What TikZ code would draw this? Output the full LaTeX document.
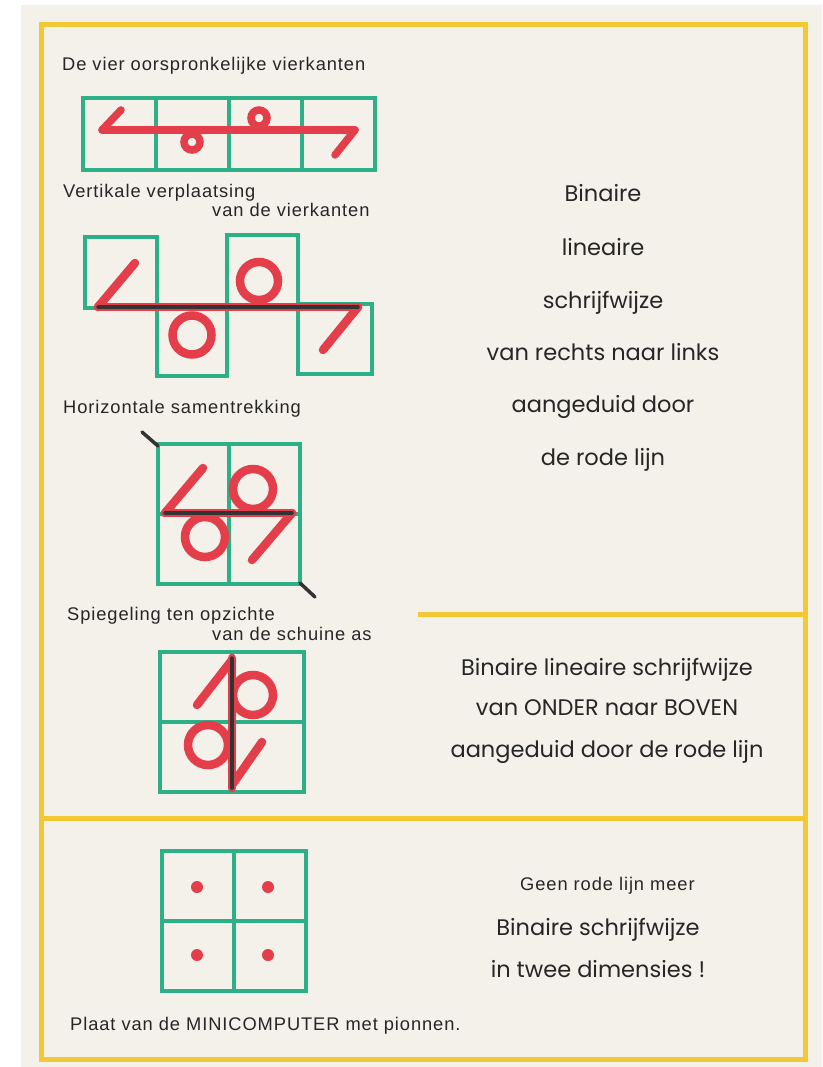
\documentclass[tikz,border=0pt]{standalone}
\usepackage{fontspec}
\setmainfont{Liberation Sans}[LetterSpace=5]
\newfontfamily\geofont{Poppins}
\definecolor{vakgroen}{RGB}{45,175,135}
\definecolor{lijnrood}{RGB}{228,62,75}
\definecolor{kadergeel}{RGB}{242,200,52}
\definecolor{papier}{RGB}{243,241,233}
\tikzset{
	vak/.style={draw=vakgroen,line width=4pt},
	rood/.style={draw=lijnrood,line width=8.5pt,line cap=round},
	dunrood/.style={draw=lijnrood,line width=7.5pt,line cap=round},
	aslijn/.style={draw=black!80,line width=3.5pt,line cap=round},
	bijschrift/.style={anchor=base west,inner sep=0pt,font=\fontsize{18.3}{22}\selectfont,text=black!85},
	groot/.style={anchor=base,inner sep=0pt,font=\geofont\fontsize{22.5}{27}\selectfont,text=black!85},
	pion/.style={fill=lijnrood}
}
\begin{document}
\begin{tikzpicture}[x=1pt,y=-1pt]
	\useasboundingbox (0,0) rectangle (822,1067);
	\fill[white] (0,0) rectangle (822,1067);
	\fill[papier] (21,5) rectangle (822,1067);
	% kader
	\draw[kadergeel,line width=5pt] (41,25) rectangle (805,1059);
	\draw[kadergeel,line width=5pt] (418,614) -- (805,614);
	\draw[kadergeel,line width=5pt] (41,818) -- (805,818);

	% de vier oorspronkelijke vierkanten
	\node[bijschrift] (titel1) at (62,71) {De vier oorspronkelijke vierkanten};
	\foreach \x in {83,156,229,302} {
		\path[vak] (\x,98) rectangle +(73,72);
	}
	\path[dunrood] (102,130) -- (355,130);
	\path[dunrood] (102,130) -- (121,110);
	\path[dunrood] (192,142) circle[radius=8];
	\path[dunrood] (259,118) circle[radius=8];
	\path[dunrood] (355,130) -- (335,155);

	% vertikale verplaatsing
	\node[bijschrift] (titel2a) at (63,198) {Vertikale verplaatsing};
	\node[bijschrift] (titel2b) at (212,217) {van de vierkanten};
	\path[vak] (85,237) rectangle (157,308);
	\path[vak] (157,306) rectangle (227,376);
	\path[vak] (227,235) rectangle (298,306);
	\path[vak] (298,304) rectangle (372,374);
	\path[rood] (98,307) -- (135,263);
	\path[rood] (192,335) circle[radius=19.5];
	\path[rood] (259,281) circle[radius=19];
	\path[rood] (358,307) -- (323,350);
	\path[rood] (98,307) -- (358,307);
	\path[aslijn] (98,307) -- (358,307);

	% horizontale samentrekking
	\node[bijschrift] (titel3) at (63,413) {Horizontale samentrekking};
	\foreach \x in {158,229} {
		\foreach \y in {444,514} {
			\path[vak] (\x,\y) rectangle +(71,70);
		}
	}
	\path[aslijn] (142,432) -- (158,446);
	\path[aslijn] (300,583) -- (315,597);
	\path[rood] (165,513) -- (203,468);
	\path[rood] (205,537) circle[radius=20];
	\path[rood] (253,489) circle[radius=20];
	\path[rood] (292,513) -- (252,560);
	\path[rood] (165,513) -- (292,513);
	\path[aslijn] (165,513) -- (292,513);

	% spiegeling ten opzichte van de schuine as
	\node[bijschrift] (titel4a) at (67,620) {Spiegeling ten opzichte};
	\node[bijschrift] (titel4b) at (212,640) {van de schuine as};
	\foreach \x in {160,232} {
		\foreach \y in {652,722} {
			\path[vak] (\x,\y) rectangle +(72,70);
		}
	}
	\path[rood] (232,660) -- (197,705);
	\path[rood] (253,695) circle[radius=20];
	\path[rood] (208,745) circle[radius=20];
	\path[rood] (232,785) -- (262,742);
	\path[rood] (232,658) -- (232,788);
	\path[aslijn] (232,658) -- (232,788);

	% plaat met pionnen
	\foreach \x in {162,234} {
		\foreach \y in {851,921} {
			\path[vak] (\x,\y) rectangle +(72,70);
		}
	}
	\foreach \x in {197,268} {
		\foreach \y in {887,955} {
			\path[pion] (\x,\y) circle[radius=6];
		}
	}
	\node[bijschrift] (titel5) at (70,1030) {Plaat van de MINICOMPUTER met pionnen.};

	% teksten rechts
	\node[groot] (bin1) at (603,202) {Binaire};
	\node[groot] (lin1) at (603,255) {lineaire};
	\node[groot] (schr1) at (603,308) {schrijfwijze};
	\node[groot] (rl1) at (603,360) {van rechts naar links};
	\node[groot] (aan1) at (603,412) {aangeduid door};
	\node[groot] (rode1) at (603,465) {de rode lijn};

	\node[groot] (bin2) at (607,675) {Binaire lineaire schrijfwijze};
	\node[groot] (ob2) at (607,715) {van ONDER naar BOVEN};
	\node[groot] (aan2) at (607,757) {aangeduid door de rode lijn};

	\node[bijschrift] (geen3) at (520,890) {Geen rode lijn meer};
	\node[groot] (bin3) at (598,935) {Binaire schrijfwijze};
	\node[groot] (dim3) at (598,977) {in twee dimensies !};
\end{tikzpicture}
\end{document}
